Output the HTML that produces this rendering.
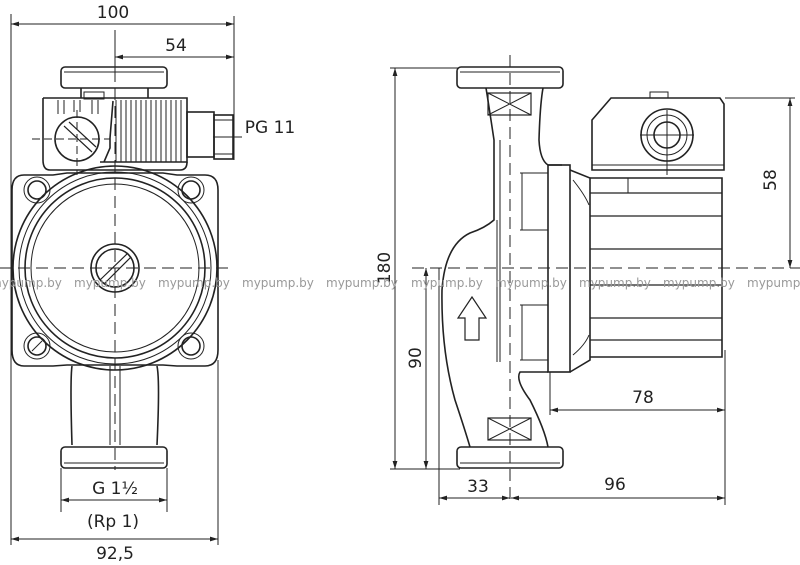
<!DOCTYPE html>
<html><head><meta charset="utf-8"><style>
html,body{margin:0;padding:0;background:#fff}
svg{display:block}
text{font-family:"DejaVu Sans","Liberation Sans",sans-serif;fill:#222}
</style></head><body>
<svg width="800" height="565" viewBox="0 0 800 565" xmlns="http://www.w3.org/2000/svg">
<defs>
<marker id="a" viewBox="0 0 10 10" refX="10" refY="5" markerWidth="8" markerHeight="8" orient="auto-start-reverse"><path d="M0,2L10,5L0,8z" fill="#222"/></marker>
</defs>
<g stroke="#222" fill="none" stroke-width="1">
<!-- LEFT dims -->
<line x1="11" y1="14" x2="11" y2="545"/>
<line x1="234" y1="16" x2="234" y2="160"/>
<line x1="218" y1="360" x2="218" y2="545"/>
<line x1="11" y1="24" x2="234" y2="24" marker-start="url(#a)" marker-end="url(#a)"/>
<line x1="115" y1="57" x2="234" y2="57" marker-start="url(#a)" marker-end="url(#a)"/>
<line x1="115" y1="30" x2="115" y2="70"/>
<line x1="61" y1="468" x2="61" y2="512"/>
<line x1="167" y1="468" x2="167" y2="512"/>
<line x1="61" y1="500" x2="167" y2="500" marker-start="url(#a)" marker-end="url(#a)"/>
<line x1="11" y1="539" x2="218" y2="539" marker-start="url(#a)" marker-end="url(#a)"/>
<line x1="213" y1="137" x2="242" y2="137"/>
<!-- left center lines -->
<line x1="0" y1="268" x2="230" y2="268" stroke-dasharray="12,6"/>
<line x1="115" y1="70" x2="115" y2="470" stroke-dasharray="12,6"/>
<line x1="77" y1="110" x2="77" y2="175" stroke-dasharray="8,4"/>
<line x1="32" y1="139" x2="110" y2="139" stroke-dasharray="8,4"/>
</g>
<g stroke="#222" fill="none" stroke-width="1.6">
<!-- left pump -->
<rect x="61" y="67" width="106" height="21" rx="4"/>
<line x1="64" y1="72" x2="164" y2="72" stroke-width="1"/>
<path d="M81,88 V98 M148,88 V98"/>
<rect x="84" y="92" width="20" height="7" stroke-width="1"/>
<path d="M43,98 H187 V162 H113 L100,162 H104 L110,148 V138 L113,101"/>
<path d="M43,98 V160 Q43,170 50,170 H180 Q187,170 187,162"/>
<g stroke-width="1">
<path d="M116,100 V162 M121,100 V162 M126,100 V162 M131,100 V162 M136,100 V162 M141,100 V162 M146,100 V162 M151,100 V162 M156,100 V162 M161,100 V162 M166,100 V162 M171,100 V162 M176,100 V162 M181,100 V162"/>
<path d="M58,100 V114 M64,100 V114 M74,100 V112 M80,100 V112 M92,100 V114 M98,100 V114"/>
</g>
<circle cx="77" cy="139" r="22"/>
<path d="M64,126 L92,152 M69,122 L96,147" stroke-width="1.2"/>
<rect x="187" y="112" width="27" height="45"/>
<rect x="214" y="115" width="19" height="44"/>
<line x1="214" y1="120" x2="233" y2="120" stroke-width="1"/>
<line x1="214" y1="154" x2="233" y2="154" stroke-width="1"/>
<!-- body -->
<path d="M24,175 H53 L67,173 H163 L177,175 H205 Q218,175 218,190 V350 Q218,366 205,366 H177 L163,365 H67 L53,366 H24 Q12,366 12,350 V190 Q12,175 24,175 Z"/>
<circle cx="115" cy="268" r="102"/>
<circle cx="115" cy="268" r="96" stroke-width="1"/>
<circle cx="115" cy="268" r="90"/>
<circle cx="115" cy="268" r="84" stroke-width="1"/>
<circle cx="37" cy="190" r="9"/><circle cx="37" cy="190" r="13" stroke-width="1"/>
<circle cx="191" cy="190" r="9"/><circle cx="191" cy="190" r="13" stroke-width="1"/>
<circle cx="37" cy="346" r="9"/><circle cx="37" cy="346" r="13" stroke-width="1"/>
<circle cx="191" cy="346" r="9"/><circle cx="191" cy="346" r="13" stroke-width="1"/>
<line x1="32" y1="351" x2="42" y2="341" stroke-width="1"/>
<circle cx="115" cy="268" r="24"/><circle cx="115" cy="268" r="19"/>
<path d="M100,280 L128,253 M104,284 L131,257" stroke-width="1.2"/>
<path d="M72,366 Q70,380 72,445 M157,366 Q160,380 157,445"/>
<path d="M110,366 V445 M120,366 V445" stroke-width="1"/>
<rect x="61" y="447" width="106" height="21" rx="4"/>
<line x1="64" y1="463" x2="164" y2="463" stroke-width="1"/>
</g>

<!-- RIGHT dims -->
<g stroke="#222" fill="none" stroke-width="1">
<line x1="390" y1="68" x2="458" y2="68"/>
<line x1="390" y1="469" x2="460" y2="469"/>
<line x1="395" y1="68" x2="395" y2="469" marker-start="url(#a)" marker-end="url(#a)"/>
<line x1="426" y1="268" x2="426" y2="469" marker-start="url(#a)" marker-end="url(#a)"/>
<line x1="439" y1="268" x2="439" y2="505"/>
<line x1="510" y1="55" x2="510" y2="505" stroke-dasharray="12,6"/>
<line x1="725" y1="98" x2="795" y2="98"/>
<line x1="790" y1="98" x2="790" y2="268" marker-start="url(#a)" marker-end="url(#a)"/>
<line x1="725" y1="350" x2="725" y2="505"/>
<line x1="550" y1="372" x2="550" y2="415"/>
<line x1="550" y1="410" x2="725" y2="410" marker-start="url(#a)" marker-end="url(#a)"/>
<line x1="439" y1="498" x2="510" y2="498" marker-start="url(#a)" marker-end="url(#a)"/>
<line x1="511" y1="498" x2="725" y2="498" marker-start="url(#a)" marker-end="url(#a)"/>
<line x1="412" y1="268" x2="800" y2="268" stroke-dasharray="12,6"/>
</g>
<g stroke="#222" fill="none" stroke-width="1.6">
<rect x="457" y="67" width="106" height="21" rx="4"/>
<line x1="460" y1="72" x2="560" y2="72" stroke-width="1"/>
<path d="M486,88 Q488,100 494,140 L494,220 Q485,228 470,233 Q445,245 442,290 Q441,350 455,400 Q465,430 470,447"/>
<path d="M543,88 Q540,105 539,140 Q540,160 548,165 H562"/>
<path d="M548,447 Q545,430 530,400 Q515,380 520,372 H548"/>
<rect x="488" y="93" width="43" height="22" stroke-width="1.2"/>
<path d="M488,93 L531,115 M531,93 L488,115" stroke-width="1"/>
<rect x="488" y="418" width="43" height="22" stroke-width="1.2"/>
<path d="M488,418 L531,440 M531,418 L488,440" stroke-width="1"/>
<path d="M497,220 V362 M500,140 V362" stroke-width="1"/>
<rect x="457" y="447" width="106" height="21" rx="4"/>
<line x1="460" y1="463" x2="560" y2="463" stroke-width="1"/>
<path d="M465,340 V318 H458 L472,297 L486,318 H479 V340 Z" stroke-width="1.2"/>
<rect x="548" y="165" width="22" height="207"/>
<path d="M520,173 H548 M520,230 H548 M520,305 H548 M520,360 H548 M522,173 V230 M522,305 V360" stroke-width="1"/>
<path d="M570,170 L590,178 V360 L570,372"/>
<path d="M573,180 Q585,195 589,205 M573,355 Q585,345 589,335" stroke-width="1"/>
<path d="M611,98 H720 L724,104 V170 H592 V120 Z"/>
<line x1="592" y1="165" x2="724" y2="165" stroke-width="1"/>
<circle cx="667" cy="135" r="26"/><circle cx="667" cy="135" r="20" stroke-width="1"/><circle cx="667" cy="135" r="13"/>
<path d="M667,110 V175 M640,135 H694" stroke-width="1"/>
<rect x="650" y="92" width="18" height="6" stroke-width="1"/>
<path d="M590,178 H722 V357 H590"/>
<path d="M590,193 H722 M590,216 H722 M590,249 H722 M590,285 H722 M590,318 H722 M590,340 H722" stroke-width="1.2"/>
<path d="M628,178 V193" stroke-width="1"/>
</g>

<g font-size="17" text-anchor="middle">
<text x="113" y="18">100</text>
<text x="176" y="51">54</text>
<text x="270" y="133" text-anchor="middle">PG 11</text>
<text x="115" y="494">G 1½</text>
<text x="113" y="527">(Rp 1)</text>
<text x="115" y="559">92,5</text>
<text x="643" y="403">78</text>
<text x="478" y="492">33</text>
<text x="615" y="490">96</text>
<text transform="translate(390,268) rotate(-90)">180</text>
<text transform="translate(421,358) rotate(-90)">90</text>
<text transform="translate(776,180) rotate(-90)">58</text>
</g>
<g font-size="12" fill="#999" style="fill:#999">
<text x="-10" y="287" style="fill:#999">mypump.by</text>
<text x="74" y="287" style="fill:#999">mypump.by</text>
<text x="158" y="287" style="fill:#999">mypump.by</text>
<text x="242" y="287" style="fill:#999">mypump.by</text>
<text x="326" y="287" style="fill:#999">mypump.by</text>
<text x="411" y="287" style="fill:#999">mypump.by</text>
<text x="495" y="287" style="fill:#999">mypump.by</text>
<text x="579" y="287" style="fill:#999">mypump.by</text>
<text x="663" y="287" style="fill:#999">mypump.by</text>
<text x="747" y="287" style="fill:#999">mypump.by</text>
</g>
</svg>
</body></html>
